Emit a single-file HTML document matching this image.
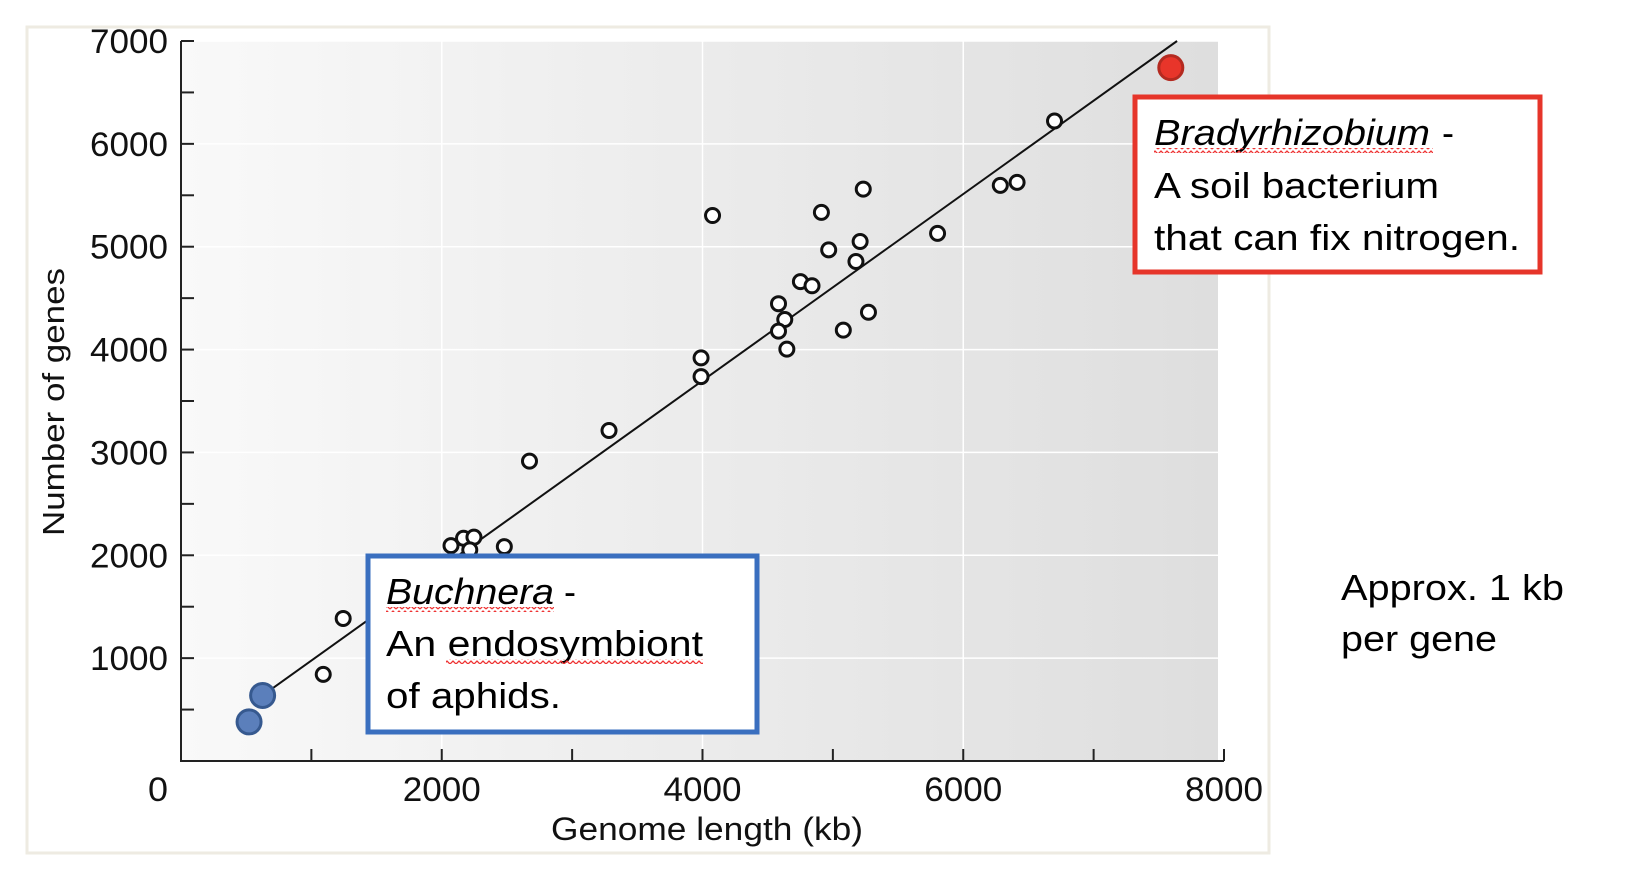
<!DOCTYPE html>
<html><head><meta charset="utf-8"><style>
html,body{margin:0;padding:0;background:#fff;}
svg{display:block;font-family:"Liberation Sans",sans-serif;}
</style></head><body>
<svg id="chart" width="1632" height="878" viewBox="0 0 1632 878">
<defs>
<linearGradient id="bg" x1="0" x2="1" y1="0" y2="0">
<stop offset="0" stop-color="#f9f9f9"/><stop offset="1" stop-color="#dedede"/>
</linearGradient>
<pattern id="wave" width="6" height="5" patternUnits="userSpaceOnUse">
<polyline points="0,4 3,1 6,4" fill="none" stroke="#e33" stroke-width="1.3"/>
</pattern>
</defs>
<rect x="27" y="27" width="1242" height="826" fill="#fff" stroke="#eeebe2" stroke-width="3"/>
<rect x="181" y="41" width="1037" height="720" fill="url(#bg)"/>
<g id="grid"></g>
<g id="axes"></g>
<g id="marks"></g>
<text x="707" y="840" font-size="32" text-anchor="middle" fill="#111" textLength="312" lengthAdjust="spacingAndGlyphs">Genome length (kb)</text>
<text transform="translate(64,402) rotate(-90)" font-size="31" text-anchor="middle" fill="#111" textLength="268" lengthAdjust="spacingAndGlyphs">Number of genes</text>

<g>
<rect x="1135" y="97" width="405" height="175" fill="#fff" stroke="#e6352a" stroke-width="5"/>
<text x="1154" y="145" font-size="36" font-style="italic" textLength="276" lengthAdjust="spacingAndGlyphs">Bradyrhizobium</text>
<rect x="1154" y="148" width="279" height="5" fill="url(#wave)"/>
<text x="1442" y="145" font-size="36">-</text>
<text x="1154" y="198" font-size="36" textLength="285" lengthAdjust="spacingAndGlyphs">A soil bacterium</text>
<text x="1154" y="250" font-size="36" textLength="366" lengthAdjust="spacingAndGlyphs">that can fix nitrogen.</text>
</g>
<g>
<rect x="368" y="556" width="389" height="176" fill="#fff" stroke="#3a6fbf" stroke-width="5"/>
<text x="386" y="604" font-size="36" font-style="italic" textLength="168" lengthAdjust="spacingAndGlyphs">Buchnera</text>
<rect x="386" y="607" width="168" height="5" fill="url(#wave)"/>
<text x="564" y="604" font-size="36">-</text>
<text x="386" y="656" font-size="36" textLength="317" lengthAdjust="spacingAndGlyphs">An endosymbiont</text>
<rect x="446" y="659" width="257" height="5" fill="url(#wave)"/>
<text x="386" y="708" font-size="36" textLength="175" lengthAdjust="spacingAndGlyphs">of aphids.</text>
</g>
<text x="1341" y="600" font-size="36" textLength="223" lengthAdjust="spacingAndGlyphs">Approx. 1 kb</text>
<text x="1341" y="651" font-size="36" textLength="156" lengthAdjust="spacingAndGlyphs">per gene</text>
</svg>
<script>
const xTicks=[0,2000,4000,6000,8000];
const yTicks=[1000,2000,3000,4000,5000,6000,7000];
const genomeKb=[6700,6284,6413,5803,5233,4912,4077,4968,5209,5177,4751,4840,4583,4631,4583,4647,5080,5273,3989,3989,3283,2673,2071,2167,2247,2215,2480,1244,1091];
const geneCount=[6222,5596,5626,5130,5560,5334,5303,4969,5051,4856,4661,4620,4446,4292,4179,4004,4189,4363,3919,3737,3213,2915,2094,2166,2176,2053,2084,1386,842];
const buchneraKb=[626,522];
const buchneraGenes=[637,380];
const bradyKb=[7592];
const bradyGenes=[6741];
const fitLineKb=[626,7640];
const fitLineGenes=[637,7000];

const X0=181,XS=(1224-181)/8000,Y0=761,YS=(761-41)/7000;
const sx=v=>X0+v*XS, sy=v=>Y0-v*YS;
const NS='http://www.w3.org/2000/svg';
function mk(tag,parent,attrs){const e=document.createElementNS(NS,tag);for(const k in attrs)e.setAttribute(k,attrs[k]);parent.appendChild(e);return e;}
const grid=document.getElementById('grid'),axes=document.getElementById('axes'),marks=document.getElementById('marks');
xTicks.slice(1,-1).forEach(v=>{const l=mk('line',grid,{x1:sx(v),x2:sx(v),y1:41,y2:761,stroke:'#fff','stroke-width':1.5});

});
yTicks.forEach(v=>{const l=mk('line',grid,{x1:181,x2:1218,y1:sy(v),y2:sy(v),stroke:'#fff','stroke-width':1.5});

});
mk('line',axes,{x1:181,x2:181,y1:41,y2:762,stroke:'#222','stroke-width':2});
mk('line',axes,{x1:180,x2:1224,y1:761,y2:761,stroke:'#222','stroke-width':2});
for(let v=1000;v<=8000;v+=1000){mk('line',axes,{x1:sx(v),x2:sx(v),y1:761,y2:749,stroke:'#222','stroke-width':2});}
for(let v=500;v<=7000;v+=500){mk('line',axes,{x1:181,x2:194,y1:sy(v),y2:sy(v),stroke:'#222','stroke-width':2});}
xTicks.forEach(v=>{const t=mk('text',axes,{x:v===0?158:sx(v),y:801,'font-size':34,'text-anchor':'middle',fill:'#111',textLength:v===0?20:78,lengthAdjust:'spacingAndGlyphs'});t.textContent=v;

});
yTicks.forEach(v=>{const t=mk('text',axes,{x:168,y:sy(v)+12,'font-size':34,'text-anchor':'end',fill:'#111',textLength:78,lengthAdjust:'spacingAndGlyphs'});t.textContent=v;

});
const fl=mk('line',marks,{x1:sx(fitLineKb[0]),y1:sy(fitLineGenes[0]),x2:sx(fitLineKb[1]),y2:sy(fitLineGenes[1]),stroke:'#111','stroke-width':2});


genomeKb.forEach((v,i)=>{const c=mk('circle',marks,{cx:sx(v),cy:sy(geneCount[i]),r:7,fill:'#fff',stroke:'#111','stroke-width':3});

});
buchneraKb.forEach((v,i)=>{const c=mk('circle',marks,{cx:sx(v),cy:sy(buchneraGenes[i]),r:12,fill:'#5b7fbb',stroke:'#36598f','stroke-width':3});

});
bradyKb.forEach((v,i)=>{const c=mk('circle',marks,{cx:sx(v),cy:sy(bradyGenes[i]),r:12,fill:'#e8352a',stroke:'#b42a20','stroke-width':3});

});
</script>
</body></html>
